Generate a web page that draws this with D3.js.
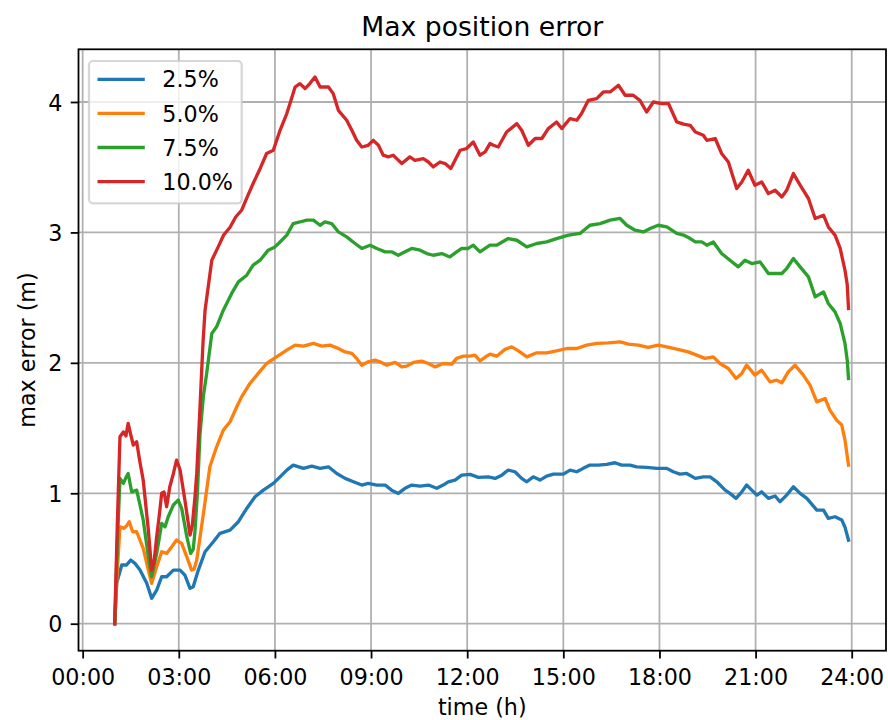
<!DOCTYPE html>
<html>
<head>
<meta charset="utf-8">
<script src="https://cdn.jsdelivr.net/npm/d3@7/dist/d3.min.js"></script>
<style>
  html, body { margin: 0; padding: 0; background: #fff; }
  svg { display: block; font-family: "DejaVu Sans", sans-serif; }
</style>
</head>
<body>
<svg id="chart" width="888" height="720"></svg>
<script>
// Max position error over the day, [hour, metres] per threshold level
const seriesLabels = ["2.5%", "5.0%", "7.5%", "10.0%"];
const seriesColors = ["#1f77b4", "#ff7f0e", "#2ca02c", "#d62728"];

const err25 = [[1.0,0],[1.06,0.31],[1.22,0.45],[1.37,0.45],[1.5,0.488],[1.63,0.463],[1.79,0.411],[2.0,0.31],[2.153,0.195],[2.31,0.258],[2.466,0.36],[2.62,0.36],[2.83,0.411],[3.04,0.411],[3.19,0.373],[3.35,0.271],[3.45,0.284],[3.61,0.411],[3.82,0.552],[4.08,0.628],[4.285,0.693],[4.6,0.718],[4.86,0.782],[5.12,0.884],[5.38,0.973],[5.64,1.024],[5.95,1.076],[6.16,1.126],[6.37,1.178],[6.57,1.216],[6.89,1.191],[7.15,1.208],[7.41,1.191],[7.67,1.203],[7.93,1.152],[8.19,1.114],[8.45,1.088],[8.71,1.063],[8.91,1.076],[9.18,1.063],[9.44,1.063],[9.64,1.024],[9.85,0.999],[10.06,1.038],[10.27,1.063],[10.53,1.055],[10.79,1.063],[11.05,1.038],[11.25,1.063],[11.41,1.088],[11.62,1.101],[11.83,1.139],[12.09,1.145],[12.35,1.122],[12.66,1.126],[12.87,1.114],[13.08,1.139],[13.28,1.178],[13.49,1.165],[13.7,1.114],[13.86,1.088],[14.06,1.126],[14.27,1.101],[14.48,1.132],[14.69,1.147],[15.0,1.147],[15.21,1.178],[15.42,1.165],[15.62,1.191],[15.83,1.216],[16.09,1.216],[16.35,1.221],[16.61,1.234],[16.82,1.216],[17.08,1.216],[17.29,1.203],[17.6,1.198],[17.92,1.191],[18.23,1.191],[18.43,1.165],[18.64,1.147],[18.85,1.152],[19.12,1.114],[19.37,1.126],[19.58,1.126],[19.79,1.088],[20.05,1.024],[20.2,0.999],[20.39,0.961],[20.57,1.011],[20.72,1.063],[20.88,1.024],[21.04,0.986],[21.19,1.011],[21.4,0.961],[21.61,0.979],[21.76,0.935],[21.97,0.986],[22.18,1.05],[22.39,0.999],[22.6,0.961],[22.91,0.871],[23.12,0.871],[23.27,0.808],[23.48,0.82],[23.69,0.795],[23.79,0.74],[23.9,0.641]];

const err50 = [[1.0,0],[1.08,0.4],[1.164,0.743],[1.29,0.731],[1.37,0.75],[1.455,0.782],[1.56,0.705],[1.685,0.705],[1.89,0.578],[2.05,0.411],[2.153,0.31],[2.31,0.437],[2.466,0.552],[2.62,0.539],[2.78,0.59],[2.93,0.641],[3.09,0.616],[3.25,0.513],[3.4,0.411],[3.48,0.42],[3.56,0.488],[3.77,0.846],[3.97,1.203],[4.18,1.356],[4.39,1.484],[4.6,1.548],[4.81,1.663],[4.96,1.739],[5.22,1.842],[5.48,1.919],[5.74,1.995],[6.05,2.046],[6.37,2.097],[6.63,2.136],[6.89,2.128],[7.2,2.149],[7.46,2.128],[7.72,2.136],[7.98,2.11],[8.19,2.084],[8.4,2.072],[8.55,2.034],[8.71,1.982],[8.91,2.008],[9.12,2.021],[9.28,2.008],[9.49,1.982],[9.75,2.003],[9.96,1.969],[10.11,1.975],[10.32,2.003],[10.58,2.013],[10.79,1.995],[11.0,1.969],[11.25,1.995],[11.52,1.99],[11.67,2.034],[11.88,2.051],[12.09,2.051],[12.24,2.059],[12.4,2.015],[12.61,2.051],[12.71,2.067],[12.92,2.051],[13.18,2.103],[13.39,2.123],[13.6,2.092],[13.86,2.046],[14.17,2.077],[14.48,2.077],[14.79,2.092],[15.11,2.11],[15.42,2.11],[15.73,2.136],[16.04,2.149],[16.4,2.153],[16.77,2.161],[17.03,2.143],[17.34,2.136],[17.65,2.118],[17.96,2.136],[18.23,2.123],[18.54,2.105],[18.9,2.084],[19.16,2.059],[19.42,2.034],[19.68,2.046],[19.89,1.995],[20.15,1.957],[20.39,1.88],[20.57,1.919],[20.72,1.982],[20.98,1.906],[21.19,1.944],[21.45,1.854],[21.66,1.867],[21.82,1.847],[22.02,1.931],[22.23,1.982],[22.49,1.906],[22.7,1.829],[22.91,1.701],[23.17,1.727],[23.32,1.638],[23.53,1.561],[23.69,1.523],[23.79,1.408],[23.9,1.216]];

const err75 = [[1.0,0],[1.08,0.6],[1.164,1.114],[1.27,1.076],[1.35,1.12],[1.42,1.152],[1.53,1.01],[1.685,1.024],[1.78,0.92],[1.89,0.795],[2.05,0.513],[2.153,0.36],[2.31,0.539],[2.466,0.769],[2.57,0.743],[2.67,0.82],[2.83,0.91],[2.98,0.948],[3.09,0.884],[3.25,0.667],[3.37,0.539],[3.45,0.57],[3.5,0.693],[3.58,1.0],[3.66,1.45],[3.77,1.75],[3.87,1.919],[4.03,2.225],[4.18,2.276],[4.39,2.404],[4.65,2.532],[4.86,2.621],[5.12,2.672],[5.32,2.749],[5.55,2.79],[5.79,2.864],[6.0,2.889],[6.16,2.927],[6.37,2.979],[6.57,3.068],[6.78,3.08],[6.99,3.094],[7.2,3.094],[7.41,3.055],[7.56,3.08],[7.77,3.068],[7.98,3.004],[8.24,2.966],[8.5,2.915],[8.71,2.877],[8.97,2.902],[9.18,2.877],[9.44,2.851],[9.64,2.851],[9.85,2.825],[10.06,2.851],[10.27,2.877],[10.53,2.864],[10.74,2.838],[10.94,2.825],[11.21,2.838],[11.46,2.812],[11.67,2.851],[11.83,2.877],[12.03,2.877],[12.19,2.902],[12.4,2.851],[12.71,2.902],[12.92,2.902],[13.28,2.953],[13.55,2.94],[13.86,2.889],[14.17,2.915],[14.48,2.927],[14.79,2.953],[15.16,2.979],[15.52,2.992],[15.83,3.055],[16.15,3.068],[16.46,3.094],[16.77,3.107],[16.98,3.055],[17.24,3.017],[17.5,3.004],[17.71,3.03],[17.96,3.055],[18.23,3.042],[18.54,2.992],[18.75,2.98],[18.96,2.953],[19.12,2.927],[19.32,2.927],[19.48,2.902],[19.68,2.927],[19.94,2.838],[20.2,2.787],[20.46,2.736],[20.67,2.787],[20.88,2.761],[21.14,2.774],[21.4,2.685],[21.61,2.685],[21.82,2.685],[21.97,2.723],[22.18,2.8],[22.39,2.736],[22.65,2.659],[22.86,2.506],[23.12,2.544],[23.27,2.455],[23.48,2.391],[23.64,2.302],[23.79,2.149],[23.86,2.02],[23.9,1.88]];

const err100 = [[1.0,0],[1.08,0.75],[1.164,1.433],[1.27,1.47],[1.35,1.44],[1.42,1.536],[1.5,1.45],[1.58,1.37],[1.685,1.395],[1.78,1.25],[1.89,1.1],[2.05,0.718],[2.153,0.41],[2.23,0.48],[2.31,0.667],[2.4,0.85],[2.466,1.0],[2.54,1.01],[2.62,0.897],[2.72,1.05],[2.83,1.15],[2.93,1.254],[3.04,1.18],[3.19,0.948],[3.35,0.68],[3.42,0.75],[3.505,0.973],[3.56,1.152],[3.66,1.65],[3.71,1.919],[3.76,2.174],[3.82,2.404],[4.03,2.787],[4.23,2.889],[4.4,2.98],[4.6,3.04],[4.78,3.12],[4.96,3.17],[5.15,3.28],[5.32,3.375],[5.52,3.48],[5.74,3.605],[5.95,3.63],[6.16,3.783],[6.37,3.911],[6.47,3.988],[6.63,4.115],[6.78,4.141],[6.94,4.103],[7.09,4.141],[7.25,4.192],[7.41,4.115],[7.67,4.115],[7.82,4.064],[7.98,3.936],[8.24,3.86],[8.4,3.783],[8.55,3.706],[8.71,3.655],[8.91,3.668],[9.07,3.706],[9.23,3.668],[9.38,3.592],[9.54,3.579],[9.69,3.592],[9.8,3.566],[9.96,3.528],[10.21,3.579],[10.37,3.553],[10.63,3.566],[10.79,3.54],[10.94,3.502],[11.15,3.54],[11.31,3.528],[11.49,3.49],[11.62,3.553],[11.78,3.63],[11.98,3.643],[12.19,3.693],[12.4,3.592],[12.56,3.617],[12.71,3.681],[12.82,3.668],[12.97,3.655],[13.23,3.77],[13.55,3.834],[13.7,3.783],[13.91,3.668],[14.12,3.72],[14.33,3.72],[14.53,3.796],[14.79,3.847],[14.95,3.796],[15.21,3.873],[15.42,3.86],[15.57,3.911],[15.78,4.013],[16.04,4.026],[16.25,4.077],[16.46,4.077],[16.72,4.128],[16.93,4.052],[17.18,4.052],[17.39,4.013],[17.6,3.923],[17.81,4.0],[18.07,3.988],[18.28,3.988],[18.54,3.847],[18.75,3.83],[18.96,3.821],[19.12,3.77],[19.37,3.745],[19.48,3.706],[19.74,3.72],[19.94,3.605],[20.15,3.54],[20.41,3.336],[20.57,3.387],[20.77,3.477],[20.98,3.362],[21.19,3.387],[21.4,3.298],[21.61,3.323],[21.82,3.272],[21.97,3.323],[22.18,3.451],[22.39,3.362],[22.65,3.26],[22.86,3.107],[23.12,3.132],[23.27,3.042],[23.48,2.979],[23.64,2.877],[23.79,2.71],[23.86,2.6],[23.9,2.417]];

const xTicks = [0, 3, 6, 9, 12, 15, 18, 21, 24];
const xTickLabels = ["00:00", "03:00", "06:00", "09:00", "12:00", "15:00", "18:00", "21:00", "24:00"];
const yTicks = [0, 1, 2, 3, 4];

const allSeries = [err25, err50, err75, err100];

// Layout (px); 1pt = 160/72 px
const pt = 160 / 72;
const box = { left: 78.5, right: 886, top: 49.3, bottom: 650.7 };
const fontTick = 10 * pt;
const tickLen = 3.5 * pt;
const tickPad = 3.5 * pt;

const svg = d3.select("#chart");

const x = d3.scaleLinear().domain([-0.13, 25.07]).range([box.left, box.right]);
const y = d3.scaleLinear().domain([-0.207, 4.404]).range([box.bottom, box.top]);

// Grid
const grid = svg.append("g").attr("stroke", "#b0b0b0").attr("stroke-width", 0.8 * pt);
grid.selectAll("line.gx").data(xTicks).join("line")
  .attr("x1", d => x(d)).attr("x2", d => x(d))
  .attr("y1", box.top).attr("y2", box.bottom);
grid.selectAll("line.gy").data(yTicks).join("line")
  .attr("class", "gy")
  .attr("x1", box.left).attr("x2", box.right)
  .attr("y1", d => y(d)).attr("y2", d => y(d));

// Series lines
const line = d3.line().x(d => x(d[0])).y(d => y(d[1]));
const clip = svg.append("clipPath").attr("id", "plotclip")
  .append("rect").attr("x", box.left).attr("y", box.top)
  .attr("width", box.right - box.left).attr("height", box.bottom - box.top);
svg.append("g").attr("clip-path", "url(#plotclip)")
  .selectAll("path").data(allSeries).join("path")
  .attr("d", line)
  .attr("fill", "none")
  .attr("stroke", (d, i) => seriesColors[i])
  .attr("stroke-width", 1.5 * pt)
  .attr("stroke-linejoin", "round")
  .attr("stroke-linecap", "square");

// Axes via d3 axis generators
const xAxis = d3.axisBottom(x).tickValues(xTicks)
  .tickFormat((d, i) => xTickLabels[i])
  .tickSize(tickLen).tickPadding(tickPad).tickSizeOuter(0);
const gx = svg.append("g").attr("transform", `translate(0,${box.bottom})`).call(xAxis);
gx.select(".domain").remove();
gx.selectAll(".tick line").attr("stroke", "#000").attr("stroke-width", 0.8 * pt);
gx.selectAll(".tick text")
  .attr("font-family", "DejaVu Sans").attr("font-size", fontTick)
  .attr("fill", "#000").attr("dy", null).attr("y", 34.3);

const yAxis = d3.axisLeft(y).tickValues(yTicks).tickFormat(d3.format("d"))
  .tickSize(tickLen).tickPadding(tickPad).tickSizeOuter(0);
const gy = svg.append("g").attr("transform", `translate(${box.left},0)`).call(yAxis);
gy.select(".domain").remove();
gy.selectAll(".tick line").attr("stroke", "#000").attr("stroke-width", 0.8 * pt);
gy.selectAll(".tick text")
  .attr("font-family", "DejaVu Sans").attr("font-size", fontTick)
  .attr("fill", "#000").attr("dy", null).attr("y", 0.364 * fontTick).attr("x", -(tickLen + tickPad + 0.5));

// Frame
svg.append("rect")
  .attr("x", box.left).attr("y", box.top)
  .attr("width", box.right - box.left).attr("height", box.bottom - box.top)
  .attr("fill", "none").attr("stroke", "#000").attr("stroke-width", 0.8 * pt);

// Title and axis labels
svg.append("text").attr("x", (box.left + box.right) / 2).attr("y", 35.7)
  .attr("text-anchor", "middle").attr("font-size", 12 * pt).attr("fill", "#000")
  .text("Max position error");
svg.append("text").attr("x", (box.left + box.right) / 2).attr("y", 715)
  .attr("text-anchor", "middle").attr("font-size", fontTick).attr("fill", "#000")
  .text("time (h)");
svg.append("text")
  .attr("transform", `translate(35,${(box.top + box.bottom) / 2}) rotate(-90)`)
  .attr("text-anchor", "middle").attr("font-size", fontTick).attr("fill", "#000")
  .text("max error (m)");

// Legend
const legend = svg.append("g");
legend.append("rect")
  .attr("x", 89).attr("y", 61).attr("width", 152.7).attr("height", 142.3)
  .attr("rx", 4).attr("ry", 4)
  .attr("fill", "#fff").attr("fill-opacity", 0.8)
  .attr("stroke", "#cccccc").attr("stroke-opacity", 0.8).attr("stroke-width", 1.0 * pt);
const items = legend.selectAll("g.item").data(seriesLabels).join("g")
  .attr("transform", (d, i) => `translate(0,${79.3 + i * 34.1})`);
items.append("line")
  .attr("x1", 97.5).attr("x2", 144.8).attr("y1", 0).attr("y2", 0)
  .attr("stroke", (d, i) => seriesColors[i]).attr("stroke-width", 1.5 * pt);
items.append("text")
  .attr("x", 162.3).attr("y", 8.1)
  .attr("font-size", fontTick).attr("fill", "#000")
  .text(d => d);
</script>
</body>
</html>
